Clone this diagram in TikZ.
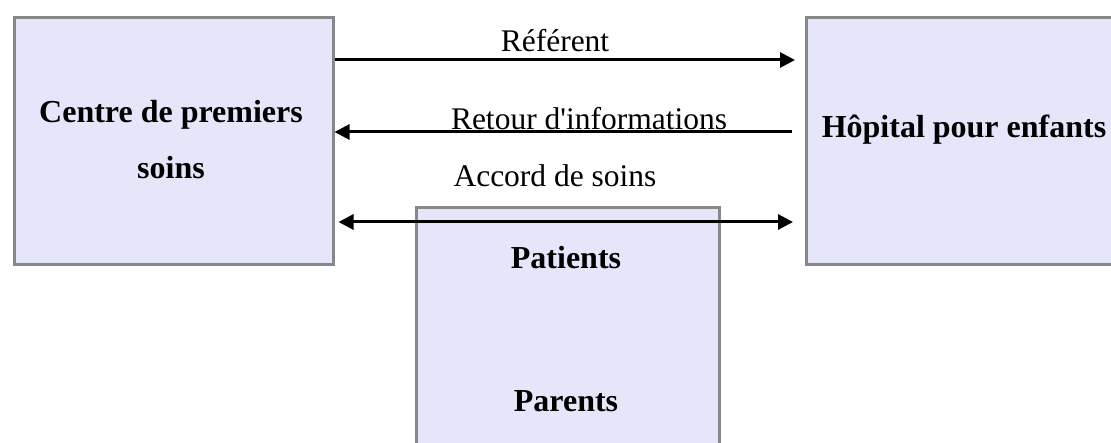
\documentclass[tikz,border=0pt]{standalone}
\usepackage{fontspec}
\setmainfont{Liberation Serif}[Ligatures=TeXOff]
\usetikzlibrary{arrows.meta}
\definecolor{boxfill}{HTML}{E6E6FA}
\definecolor{boxline}{HTML}{888888}
\begin{document}
\begin{tikzpicture}[x=1pt,y=-1pt,
  boxstyle/.style={draw=boxline,fill=boxfill,line width=3pt,inner sep=0pt},
  arr/.style={line width=3pt,-{Triangle[length=15pt,width=15pt]}},
  darr/.style={line width=3pt,{Triangle[length=15pt,width=15pt]}-{Triangle[length=15pt,width=15pt]}},
  lbl/.style={font=\fontsize{31.5}{38}\selectfont,anchor=base,inner sep=0pt},
  blbl/.style={font=\fontsize{32}{38}\selectfont\bfseries,anchor=base,inner sep=0pt}]
\useasboundingbox (0,0) rectangle (1111,443);
\clip (0,0) rectangle (1111,443);
% boxes
\node[boxstyle,anchor=north west,minimum width=319pt,minimum height=247pt] (cps) at (12.5,16) {};
\node[boxstyle,anchor=north west,minimum width=320pt,minimum height=247pt] (hop) at (805,16) {};
\node[boxstyle,anchor=north west,minimum width=303pt,minimum height=260pt] (pat) at (415,206) {};
% box texts
\node[blbl] (t1) at (171,123) {Centre de premiers};
\node[blbl] (t2) at (171,179) {soins};
\node[blbl] (t3) at (964,138) {Hôpital pour enfants};
\node[blbl] (t4) at (566,269) {Patients};
\node[blbl] (t5) at (566,412) {Parents};
% reference coordinates for arrow heights
\coordinate (y1) at (0,60);
\coordinate (y2) at (0,132);
\coordinate (y3) at (0,222);
% connectors
\draw[arr] (cps.east |- y1) -- ([xshift=-10pt]hop.west |- y1);
\draw[arr] ([xshift=-13pt]hop.west |- y2) -- (cps.east |- y2);
\draw[darr] ([xshift=4pt]cps.east |- y3) -- ([xshift=-12pt]hop.west |- y3);
% labels
\node[lbl] (l1) at (555,52) {Référent};
\node[lbl] (l2) at (589,130) {Retour d'informations};
\node[lbl] (l3) at (555,187) {Accord de soins};
\end{tikzpicture}
\end{document}
